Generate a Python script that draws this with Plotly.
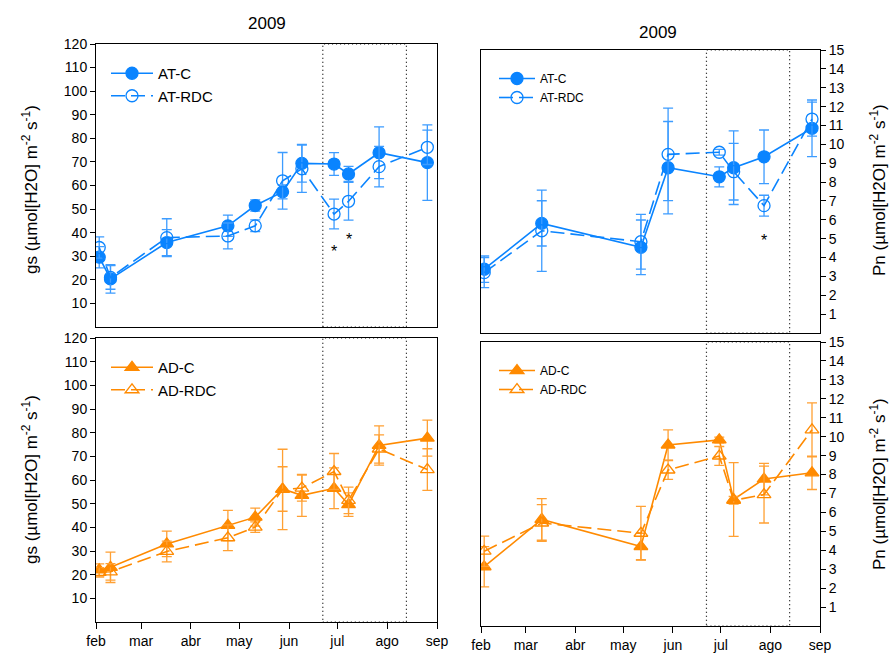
import plotly.graph_objects as go

# ---------------- data ----------------
gs_dates = ["2009-02-03", "2009-02-10", "2009-03-17", "2009-04-24", "2009-05-11", "2009-05-28",
            "2009-06-09", "2009-06-29", "2009-07-08", "2009-07-27", "2009-08-26"]
pn_dates = ["2009-02-03", "2009-03-11", "2009-05-12", "2009-05-29", "2009-06-30", "2009-07-09",
            "2009-07-28", "2009-08-27"]

at_c_gs = [29.6, 20.4, 35.8, 42.9, 51.5, 57.3, 69.4, 69.1, 64.9, 73.9, 69.7]
at_c_gs_err = [4.5, 6.0, 5.5, 4.5, 2.4, 3.0, 8.0, 4.8, 3.2, 11.0, 16.0]
at_rdc_gs = [33.7, 21.0, 37.9, 38.6, 42.9, 62.0, 67.1, 47.9, 53.3, 68.0, 76.2]
at_rdc_gs_err = [4.5, 5.0, 8.0, 5.5, 2.5, 12.0, 10.0, 6.3, 8.0, 8.6, 7.3]

at_c_pn = [3.38, 5.81, 4.54, 8.76, 8.28, 8.76, 9.34, 10.85]
at_c_pn_err = [0.7, 1.2, 1.45, 2.45, 0.53, 1.95, 1.42, 1.5]
at_rdc_pn = [3.2, 5.42, 4.84, 9.47, 9.58, 8.55, 6.75, 11.34]
at_rdc_pn_err = [0.8, 2.15, 1.45, 2.45, 0.15, 1.5, 0.55, 0.9]

ad_c_gs = [22.0, 23.1, 33.0, 40.8, 44.3, 56.2, 53.5, 56.5, 49.6, 74.6, 77.7]
ad_c_gs_err = [2.6, 6.4, 5.4, 6.4, 3.8, 9.4, 8.9, 8.6, 5.0, 8.3, 7.6]
ad_rdc_gs = [21.0, 21.2, 29.8, 35.6, 40.1, 56.0, 56.6, 63.6, 51.4, 73.1, 64.4]
ad_rdc_gs_err = [2.0, 3.5, 4.4, 5.4, 2.2, 17.0, 5.5, 7.6, 5.6, 6.0, 8.8]

ad_c_pn = [3.13, 5.63, 4.2, 9.56, 9.83, 6.68, 7.76, 8.09]
ad_c_pn_err = [1.06, 1.1, 0.7, 0.8, 0.15, 1.95, 0.83, 0.88]
ad_rdc_pn = [3.95, 5.44, 4.9, 8.24, 8.98, 6.64, 6.94, 10.36]
ad_rdc_pn_err = [0.8, 0.97, 1.42, 0.5, 0.5, 0.2, 1.5, 1.42]

month_ticks = ["2009-02-01", "2009-03-01", "2009-04-01", "2009-05-01", "2009-06-01",
               "2009-07-01", "2009-08-01", "2009-09-01"]
month_labels = ["feb", "mar", "abr", "may", "jun", "jul", "ago", "sep"]
gs_ticks = list(range(10, 121, 10))
pn_ticks = list(range(1, 16))
drought_window = ["2009-06-22", "2009-08-13"]

# stars: (date, value, axis)
stars = [("2009-06-29", 32.0, "x", "y"), ("2009-07-08", 37.2, "x", "y"),
         ("2009-07-28", 4.9, "x2", "y2")]

BLUE = "#0a84ff"
BLUE_ERR = "#3d9cff"
ORANGE = "#ff8a00"
ORANGE_ERR = "#ffa033"
FONT = "Liberation Sans, Arial, sans-serif"

fig = go.Figure()


def add(x, y, err, name, color, ecolor, symbol, dash, xa, ya, legend):
    fig.add_trace(go.Scatter(
        x=x, y=y, name=name, mode="lines+markers",
        xaxis=xa, yaxis=ya, legend=legend,
        line=dict(color=color, width=1.6, dash=dash),
        marker=dict(symbol=symbol, size=12, color=color,
                    line=dict(color=color, width=1.3)),
        error_y=dict(type="data", array=err, visible=True, color=ecolor,
                     thickness=1.3, width=5),
    ))


RDC_DASH = "14px,6px"
add(gs_dates, at_c_gs, at_c_gs_err, "AT-C", BLUE, BLUE_ERR, "circle", "solid", "x", "y", "legend")
add(gs_dates, at_rdc_gs, at_rdc_gs_err, "AT-RDC", BLUE, BLUE_ERR, "circle-open", RDC_DASH, "x", "y", "legend")
add(pn_dates, at_c_pn, at_c_pn_err, "AT-C", BLUE, BLUE_ERR, "circle", "solid", "x2", "y2", "legend2")
add(pn_dates, at_rdc_pn, at_rdc_pn_err, "AT-RDC", BLUE, BLUE_ERR, "circle-open", RDC_DASH, "x2", "y2", "legend2")
add(gs_dates, ad_c_gs, ad_c_gs_err, "AD-C", ORANGE, ORANGE_ERR, "triangle-up", "solid", "x3", "y3", "legend3")
add(gs_dates, ad_rdc_gs, ad_rdc_gs_err, "AD-RDC", ORANGE, ORANGE_ERR, "triangle-up-open", RDC_DASH, "x3", "y3", "legend3")
add(pn_dates, ad_c_pn, ad_c_pn_err, "AD-C", ORANGE, ORANGE_ERR, "triangle-up", "solid", "x4", "y4", "legend4")
add(pn_dates, ad_rdc_pn, ad_rdc_pn_err, "AD-RDC", ORANGE, ORANGE_ERR, "triangle-up-open", RDC_DASH, "x4", "y4", "legend4")

W, H = 895, 655


def dx(px):
    return px / W


def dy(py):
    return 1 - py / H


xdom_left = [dx(96), dx(437)]
xdom_right = [dx(481), dx(820)]
ydom_tl = [dy(327), dy(44)]
ydom_bl = [dy(622), dy(338)]
ydom_tr = [dy(333), dy(50)]
ydom_br = [dy(626), dy(342)]

axis_common = dict(showline=True, linecolor="black", linewidth=1, mirror=True,
                   showgrid=False, zeroline=False, automargin=False,
                   tickfont=dict(family=FONT, size=14, color="black"))
xcommon = dict(axis_common, type="date", range=["2009-02-01", "2009-09-01"],
               tickvals=month_ticks, ticktext=month_labels)

fig.update_layout(
    xaxis=dict(xcommon, domain=xdom_left, anchor="y", showticklabels=False, ticks=""),
    xaxis2=dict(xcommon, domain=xdom_right, anchor="y2", showticklabels=False, ticks=""),
    xaxis3=dict(xcommon, domain=xdom_left, anchor="y3", ticks="outside", ticklen=6,
                tickcolor="black"),
    xaxis4=dict(xcommon, domain=xdom_right, anchor="y4", ticks="outside", ticklen=6,
                tickcolor="black"),
    yaxis=dict(axis_common, domain=ydom_tl, anchor="x", range=[0, 120], tickvals=gs_ticks,
               ticks="outside", ticklen=5, tickcolor="black"),
    yaxis3=dict(axis_common, domain=ydom_bl, anchor="x3", range=[0, 120], tickvals=gs_ticks,
                ticks="outside", ticklen=5, tickcolor="black"),
    yaxis2=dict(axis_common, domain=ydom_tr, anchor="x2", range=[0, 15], tickvals=pn_ticks,
                side="right", ticks="outside", ticklen=5, tickcolor="black"),
    yaxis4=dict(axis_common, domain=ydom_br, anchor="x4", range=[0, 15], tickvals=pn_ticks,
                side="right", ticks="outside", ticklen=5, tickcolor="black"),
    width=W, height=H, autosize=False,
    margin=dict(l=0, r=0, t=0, b=0, pad=0, autoexpand=False),
    paper_bgcolor="white", plot_bgcolor="white",
    font=dict(family=FONT, color="black"),
)

leg_common = dict(bgcolor="rgba(0,0,0,0)", borderwidth=0, xanchor="left", yanchor="top",
                  tracegroupgap=0)
fig.update_layout(
    legend=dict(leg_common, x=dx(106), y=dy(57), itemwidth=42, font=dict(family=FONT, size=15)),
    legend2=dict(leg_common, x=dx(494), y=dy(64), itemwidth=36, font=dict(family=FONT, size=12)),
    legend3=dict(leg_common, x=dx(106), y=dy(351), itemwidth=42, font=dict(family=FONT, size=15)),
    legend4=dict(leg_common, x=dx(494), y=dy(356), itemwidth=36, font=dict(family=FONT, size=12)),
)

# drought period dotted boxes
for xa, ya in [("x", "y"), ("x2", "y2"), ("x3", "y3"), ("x4", "y4")]:
    fig.add_shape(type="rect", xref=xa, yref=ya + " domain",
                  x0=drought_window[0], x1=drought_window[1], y0=0, y1=1,
                  line=dict(color="black", width=1.2, dash="1px,3px"), layer="below")

for d, v, xa, ya in stars:
    fig.add_annotation(x=d, y=v, xref=xa, yref=ya, text="*", showarrow=False,
                       font=dict(family=FONT, size=16, color="black"))

# titles
fig.add_annotation(x=dx(267), y=dy(23), xref="paper", yref="paper", text="2009",
                   xanchor="center", yanchor="middle",
                   showarrow=False, font=dict(family=FONT, size=17))
fig.add_annotation(x=dx(658), y=dy(33), xref="paper", yref="paper", text="2009",
                   xanchor="center", yanchor="middle",
                   showarrow=False, font=dict(family=FONT, size=17))

gs_title = "gs (\u00b5mol[H2O] m<sup>-2</sup> s<sup>-1</sup>)"
pn_title = "Pn (\u00b5mol[H2O] m<sup>-2</sup> s<sup>-1</sup>)"
for yc in [190, 480]:
    fig.add_annotation(x=dx(30), y=dy(yc), xref="paper", yref="paper", text=gs_title,
                       textangle=-90, xanchor="center", yanchor="middle",
                       showarrow=False, font=dict(family=FONT, size=17))
for yc in [190, 484]:
    fig.add_annotation(x=dx(878), y=dy(yc), xref="paper", yref="paper", text=pn_title,
                       textangle=-90, xanchor="center", yanchor="middle",
                       showarrow=False, font=dict(family=FONT, size=17))

fig.write_html("out.html")
